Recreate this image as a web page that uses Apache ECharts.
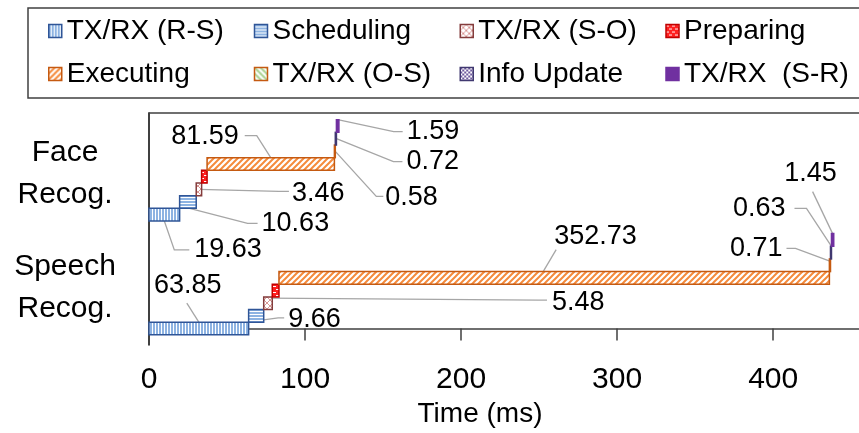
<!DOCTYPE html>
<html>
<head>
<meta charset="utf-8">
<script src="https://cdn.jsdelivr.net/npm/echarts@6/dist/echarts.min.js"></script>
<style>
  html, body { margin: 0; padding: 0; background: #fff; }
  #chart { width: 859px; height: 433px; }
</style>
</head>
<body>
<div id="chart"></div>
<script>
// Latency breakdown of one request, per application (ms)
const categories = ['Face Recog.', 'Speech Recog.'];
const stages = ['TX/RX (R-S)', 'Scheduling', 'TX/RX (S-O)', 'Preparing',
                'Executing', 'TX/RX (O-S)', 'Info Update', 'TX/RX  (S-R)'];
const faceTimes = [19.63, 10.63, 3.46, 3.5, 81.59, 0.58, 0.72, 1.59];
const speechTimes = [63.85, 9.66, 5.48, 4.3, 352.73, 0.71, 0.63, 1.45];
const labelled = [
  [true, true, true, false, true, true, true, true],
  [true, true, true, false, true, true, true, true]
];
const xTicks = [0, 100, 200, 300, 400];

const FONT = '"Liberation Sans", Arial, sans-serif';

// ---- fill patterns ----
function makePattern(w, h, draw) {
  const c = document.createElement('canvas');
  c.width = w; c.height = h;
  const ctx = c.getContext('2d');
  ctx.fillStyle = '#ffffff';
  ctx.fillRect(0, 0, w, h);
  draw(ctx, w, h);
  return { image: c, repeat: 'repeat' };
}
const patterns = [
  makePattern(3, 3, (g) => { g.fillStyle = '#8db3e2'; g.fillRect(0, 0, 2, 3); }),
  makePattern(3, 3, (g) => { g.fillStyle = '#8db3e2'; g.fillRect(0, 0, 3, 2); }),
  makePattern(6, 6, (g) => {
    g.strokeStyle = '#d99694'; g.lineWidth = 1;
    g.beginPath(); g.moveTo(0, 0); g.lineTo(6, 6); g.moveTo(6, 0); g.lineTo(0, 6); g.stroke();
  }),
  makePattern(6, 6, (g) => {
    g.fillStyle = '#ff2020'; g.fillRect(0, 0, 6, 6);
    g.fillStyle = '#ffffff'; g.fillRect(0, 1, 3, 1); g.fillRect(3, 4, 3, 1);
  }),
  makePattern(6, 6, (g) => {
    g.strokeStyle = '#f58b3c'; g.lineWidth = 2;
    g.beginPath(); g.moveTo(-1, 7); g.lineTo(7, -1); g.moveTo(-1, 1); g.lineTo(1, -1);
    g.moveTo(5, 7); g.lineTo(7, 5); g.stroke();
  }),
  makePattern(6, 6, (g) => {
    g.strokeStyle = '#a9d18e'; g.lineWidth = 2;
    g.beginPath(); g.moveTo(-1, -1); g.lineTo(7, 7); g.moveTo(5, -1); g.lineTo(7, 1);
    g.moveTo(-1, 5); g.lineTo(1, 7); g.stroke();
  }),
  makePattern(4, 4, (g) => {
    g.fillStyle = '#6f5a9e'; g.fillRect(0, 0, 2, 2); g.fillRect(2, 2, 2, 2);
  }),
  makePattern(2, 2, (g) => { g.fillStyle = '#7030a0'; g.fillRect(0, 0, 2, 2); })
];
const borders = ['#2f5597', '#2f5597', '#843c3c', '#c00000',
                 '#c55a11', '#c55a11', '#403870', '#7030a0'];

// ---- callout placement: anchor on the bar (fraction along it, fraction of row height),
// leader polyline and text offsets in pixels from that anchor ----
const callouts = [
  [
    { f: 0.5, fy: 0.5, path: [[10, 29], [25, 29]], text: [30, 29], align: 'left' },
    { f: 0.6, fy: 0.5, path: [[58, 15], [68, 15]], text: [72, 15], align: 'left' },
    { f: 0.5, fy: 0, path: [[80, 2], [90, 2]], text: [93, 4], align: 'left' },
    null,
    { f: 0.5, fy: -0.5, path: [[-14, -22], [-26, -22]], text: [-32, -21], align: 'right' },
    { f: 1, fy: 0, path: [[41, 45], [48, 45]], text: [50, 46], align: 'left' },
    { f: 1, fy: 0, path: [[57, 23], [66, 23]], text: [70, 23], align: 'left' },
    { f: 0.5, fy: -0.5, path: [[56, 12], [65, 12]], text: [69, 12], align: 'left' }
  ],
  [
    { f: 0.5, fy: -0.5, path: [[-12, -19]], text: [-11, -37], align: 'center' },
    { f: 0.5, fy: 0.4, path: [[22, -3], [28, -3]], text: [32, -1], align: 'left' },
    { f: 0.5, fy: -0.4, path: [[271, 2], [279, 2]], text: [284, 4], align: 'left' },
    null,
    { f: 0.48, fy: -0.5, path: [[13, -22]], text: [11, -35], align: 'left' },
    { f: 1, fy: -0.3, path: [[-35, -13], [-44, -13]], text: [-48, -13], align: 'right' },
    { f: 1, fy: -0.5, path: [[-25, -38], [-37, -38]], text: [-46, -38], align: 'right' },
    { f: 0.5, fy: -0.5, path: [[-20, -42]], text: [-22, -60], align: 'center' }
  ]
];

// ---- build segments: each stage starts where the previous one ends ----
const timesByCat = [faceTimes, speechTimes];
const rowGap = 1;
function baseRow(ci) { return (categories.length - 1 - ci) * (stages.length + rowGap); }
const segData = stages.map(() => []);
timesByCat.forEach((times, ci) => {
  let t = 0;
  times.forEach((d, si) => {
    segData[si].push([t, t + d, baseRow(ci) + si, d]);
    t += d;
  });
});
// category labels sit beside the middle of each group of rows
const groupCenters = categories.map((_, ci) => baseRow(ci) + (stages.length - 1) / 2 - 0.25);

function renderItem(params, api) {
  const si = params.seriesIndex, ci = params.dataIndex;
  const start = api.value(0), end = api.value(1), row = api.value(2), dur = api.value(3);
  const p0 = api.coord([start, row]);
  const p1 = api.coord([end, row]);
  const h = api.size([0, 1])[1];
  const children = [];
  const c = labelled[ci][si] ? callouts[ci][si] : null;
  if (c) {
    const ax = p0[0] + (p1[0] - p0[0]) * c.f;
    const ay = p0[1] + h * c.fy;
    const pts = [[ax, ay]].concat(c.path.map(p => [ax + p[0], ay + p[1]]));
    children.push({
      type: 'polyline', z2: 1,
      shape: { points: pts },
      style: { stroke: '#a6a6a6', lineWidth: 1.3, fill: null }
    });
    children.push({
      type: 'text', z2: 5,
      style: {
        text: dur.toFixed(2), x: ax + c.text[0], y: ay + c.text[1],
        align: c.align, verticalAlign: 'middle',
        font: '27px ' + FONT, fill: '#000'
      }
    });
  }
  children.push({
    type: 'rect', z2: 3,
    shape: { x: p0[0], y: p0[1] - h / 2, width: Math.max(p1[0] - p0[0], 0.4), height: h },
    style: { fill: patterns[si], stroke: borders[si], lineWidth: 1.5 }
  });
  return { type: 'group', children };
}

const chart = echarts.init(document.getElementById('chart'), null, { renderer: 'canvas' });
chart.setOption({
  animation: false,
  backgroundColor: '#fff',
  legend: {
    left: 28, top: 8, width: 830,
    orient: 'horizontal',
    padding: [6, 0, 7, 20],
    itemGap: 9,
    itemWidth: 13, itemHeight: 13,
    icon: 'rect',
    borderColor: '#404040', borderWidth: 1.5,
    itemStyle: { borderWidth: 1.5, borderColor: 'inherit' },
    textStyle: {
      fontFamily: FONT, fontSize: 28, color: '#000',
      width: 178, overflow: 'truncate', lineHeight: 34
    },
    data: stages
  },
  grid: { left: 149, top: 113, right: 0, bottom: 88, containLabel: false },
  xAxis: [
    {
      type: 'value', min: 0, max: 455, position: 'bottom',
      axisLine: { show: true, lineStyle: { color: '#404040', width: 1.5 } },
      axisTick: { show: true, length: 12, customValues: xTicks, lineStyle: { color: '#404040', width: 1.5 } },
      axisLabel: { customValues: xTicks, fontFamily: FONT, fontSize: 30, color: '#000', margin: 20 },
      splitLine: { show: false },
      name: 'Time (ms)', nameLocation: 'middle', nameGap: 55,
      nameTextStyle: { fontFamily: FONT, fontSize: 28, color: '#000', padding: [0, 48, 0, 0] }
    },
    {
      type: 'value', min: 0, max: 455, position: 'top',
      axisLine: { show: true, lineStyle: { color: '#404040', width: 1.5 } },
      axisTick: { show: false }, axisLabel: { show: false }, splitLine: { show: false }
    }
  ],
  yAxis: {
    type: 'value', min: -1.3, max: 17.03,
    axisLine: { show: true, lineStyle: { color: '#000', width: 1.5 } },
    axisTick: { show: false },
    splitLine: { show: false },
    axisLabel: {
      customValues: groupCenters,
      formatter: (v) => {
        const i = groupCenters.findIndex(g => Math.abs(g - v) < 1e-6);
        return i >= 0 ? categories[i].replace(' ', '\n') : '';
      },
      align: 'center', margin: 84,
      fontFamily: FONT, fontSize: 30, lineHeight: 42, color: '#000'
    }
  },
  series: stages.map((name, si) => ({
    type: 'custom',
    name: name,
    xAxisIndex: 0,
    renderItem: renderItem,
    itemStyle: { color: patterns[si], borderColor: borders[si], borderWidth: 1.5 },
    encode: { x: [0, 1], y: 2 },
    data: segData[si]
  }))
});
</script>
</body>
</html>
